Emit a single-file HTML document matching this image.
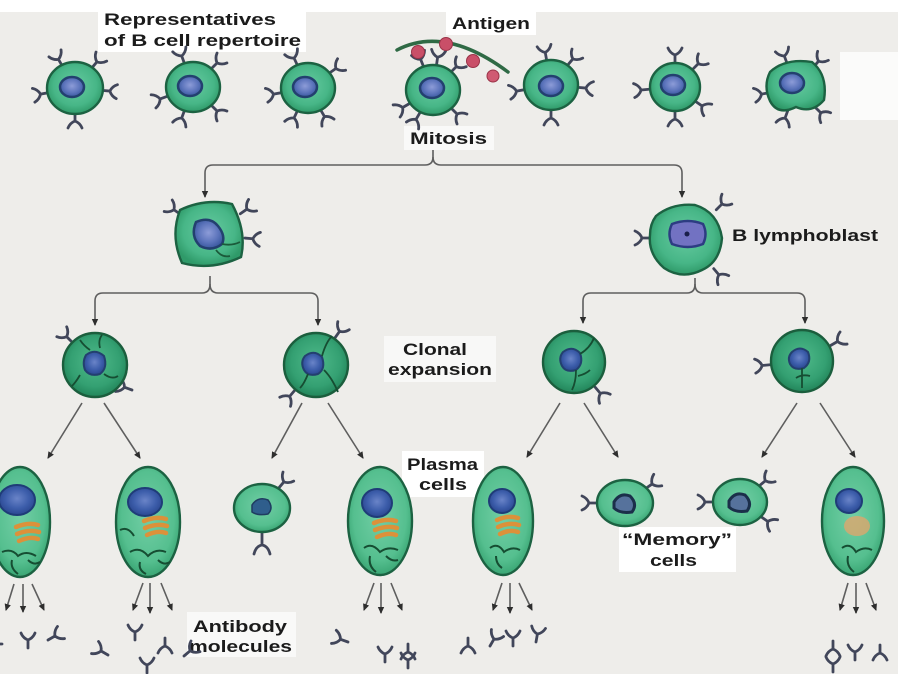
<!DOCTYPE html>
<html><head><meta charset="utf-8"><style>
html,body{margin:0;padding:0;background:#eeedea;}
svg{display:block;}
text{font-family:"Liberation Sans",sans-serif;font-weight:bold;fill:#1b1b1b;font-size:17px;}
</style></head><body>
<svg width="898" height="674" viewBox="0 0 898 674" xmlns="http://www.w3.org/2000/svg">
<defs>
<radialGradient id="g" cx="50%" cy="45%" r="55%"><stop offset="0" stop-color="#66caa0"/><stop offset="0.7" stop-color="#47b687"/><stop offset="1" stop-color="#2f9a69"/></radialGradient>
<radialGradient id="g2" cx="50%" cy="45%" r="55%"><stop offset="0" stop-color="#4fba8a"/><stop offset="0.7" stop-color="#34a072"/><stop offset="1" stop-color="#22855a"/></radialGradient>
<radialGradient id="gp" cx="50%" cy="45%" r="55%"><stop offset="0" stop-color="#72cea5"/><stop offset="0.75" stop-color="#55bf8f"/><stop offset="1" stop-color="#3aa674"/></radialGradient>
<radialGradient id="n" cx="50%" cy="45%" r="55%"><stop offset="0" stop-color="#8d9cd8"/><stop offset="0.6" stop-color="#5d75bc"/><stop offset="1" stop-color="#3a58a0"/></radialGradient>
<radialGradient id="np" cx="50%" cy="45%" r="55%"><stop offset="0" stop-color="#6a84c8"/><stop offset="0.6" stop-color="#3d5eab"/><stop offset="1" stop-color="#2a4790"/></radialGradient>
<marker id="a" markerWidth="8" markerHeight="8" refX="6" refY="4" orient="auto" markerUnits="userSpaceOnUse"><path d="M0,0.8 L7,4 L0,7.2 Z" fill="#2e2e2e"/></marker>
<g id="y"><path d="M0,0 V-8 M-7,-15 Q-5,-10 0,-8 Q5,-10 7,-15" fill="none" stroke="#41465a" stroke-width="2.8" stroke-linecap="round"/></g>
</defs>

<!-- white areas -->
<rect x="0" y="0" width="898" height="12" fill="#fff"/>
<rect x="840" y="52" width="58" height="68" fill="#fbfbfa"/>
<rect x="98" y="8" width="208" height="44" fill="#fff"/>
<rect x="446" y="9" width="90" height="26" fill="#fff"/>
<rect x="404" y="126" width="90" height="24" fill="#f9f9f8"/>
<rect x="384" y="336" width="112" height="46" fill="#f8f8f7"/>
<rect x="402" y="451" width="82" height="46" fill="#fff"/>
<rect x="619" y="527" width="117" height="45" fill="#fff"/>
<rect x="187" y="612" width="109" height="45" fill="#f9f9f8"/>

<!-- labels -->
<text x="104" y="25" textLength="172" lengthAdjust="spacingAndGlyphs">Representatives</text>
<text x="104" y="46" textLength="197" lengthAdjust="spacingAndGlyphs">of B cell repertoire</text>
<text x="452" y="29" textLength="78" lengthAdjust="spacingAndGlyphs">Antigen</text>
<text x="410" y="144" textLength="77" lengthAdjust="spacingAndGlyphs">Mitosis</text>
<text x="732" y="241" textLength="146" lengthAdjust="spacingAndGlyphs">B lymphoblast</text>
<text x="403" y="355" textLength="64" lengthAdjust="spacingAndGlyphs">Clonal</text>
<text x="388" y="375" textLength="104" lengthAdjust="spacingAndGlyphs">expansion</text>
<text x="407" y="470" textLength="71" lengthAdjust="spacingAndGlyphs">Plasma</text>
<text x="419" y="490" textLength="48" lengthAdjust="spacingAndGlyphs">cells</text>
<text x="622" y="545" textLength="110" lengthAdjust="spacingAndGlyphs">“Memory”</text>
<text x="650" y="566" textLength="47" lengthAdjust="spacingAndGlyphs">cells</text>
<text x="193" y="632" textLength="94" lengthAdjust="spacingAndGlyphs">Antibody</text>
<text x="189" y="652" textLength="103" lengthAdjust="spacingAndGlyphs">molecules</text>

<!-- connectors -->
<g fill="none" stroke="#5e5e5e" stroke-width="1.6">
<path d="M433,150 V157 Q433,165 425,165 H213 Q205,165 205,173 V197" marker-end="url(#a)"/>
<path d="M433,157 Q433,165 441,165 H674 Q682,165 682,173 V197" marker-end="url(#a)"/>
<path d="M210,276 V284 Q210,293 202,293 H103 Q95,293 95,301 V325" marker-end="url(#a)"/>
<path d="M210,284 Q210,293 218,293 H310 Q318,293 318,301 V325" marker-end="url(#a)"/>
<path d="M695,278 V284 Q695,293 687,293 H591 Q583,293 583,301 V323" marker-end="url(#a)"/>
<path d="M695,284 Q695,293 703,293 H797 Q805,293 805,301 V323" marker-end="url(#a)"/>
<path d="M82,403 L48,458" marker-end="url(#a)"/>
<path d="M104,403 L140,458" marker-end="url(#a)"/>
<path d="M302,403 L272,458" marker-end="url(#a)"/>
<path d="M328,403 L363,458" marker-end="url(#a)"/>
<path d="M560,403 L527,457" marker-end="url(#a)"/>
<path d="M584,403 L618,457" marker-end="url(#a)"/>
<path d="M797,403 L762,457" marker-end="url(#a)"/>
<path d="M820,403 L855,457" marker-end="url(#a)"/>
<path d="M14,584 L6,610" marker-end="url(#a)"/><path d="M23,584 L23,612" marker-end="url(#a)"/><path d="M32,584 L44,610" marker-end="url(#a)"/>
<path d="M143,583 L133,610" marker-end="url(#a)"/><path d="M150,583 L150,613" marker-end="url(#a)"/><path d="M161,583 L172,610" marker-end="url(#a)"/>
<path d="M374,583 L364,610" marker-end="url(#a)"/><path d="M381,583 L381,613" marker-end="url(#a)"/><path d="M391,583 L402,610" marker-end="url(#a)"/>
<path d="M502,583 L493,610" marker-end="url(#a)"/><path d="M510,583 L510,613" marker-end="url(#a)"/><path d="M519,583 L532,610" marker-end="url(#a)"/>
<path d="M848,583 L840,610" marker-end="url(#a)"/><path d="M856,583 L856,613" marker-end="url(#a)"/><path d="M866,583 L876,610" marker-end="url(#a)"/>
</g>

<!-- ===== top row ===== -->
<use href="#y" transform="translate(75,88) rotate(-30) translate(0,-25)"/>
<use href="#y" transform="translate(75,88) rotate(40) translate(0,-26)"/>
<use href="#y" transform="translate(75,88) rotate(-100) translate(0,-27)"/>
<use href="#y" transform="translate(75,88) rotate(95) translate(0,-27)"/>
<use href="#y" transform="translate(75,88) rotate(180) translate(0,-25)"/>
<ellipse cx="75" cy="88" rx="28" ry="26" fill="url(#g)" stroke="#1c6242" stroke-width="2.4"/>
<ellipse cx="72" cy="87" rx="12" ry="10" fill="url(#n)" stroke="#23406f" stroke-width="2.5"/>

<use href="#y" transform="translate(193,87) rotate(-20) translate(0,-25)"/>
<use href="#y" transform="translate(193,87) rotate(45) translate(0,-26)"/>
<use href="#y" transform="translate(193,87) rotate(-110) translate(0,-27)"/>
<use href="#y" transform="translate(193,87) rotate(135) translate(0,-26)"/>
<use href="#y" transform="translate(193,87) rotate(200) translate(0,-25)"/>
<ellipse cx="193" cy="87" rx="27" ry="25" fill="url(#g)" stroke="#1c6242" stroke-width="2.4"/>
<ellipse cx="190" cy="86" rx="12" ry="10" fill="url(#n)" stroke="#23406f" stroke-width="2.5"/>

<use href="#y" transform="translate(308,88) rotate(-25) translate(0,-25)"/>
<use href="#y" transform="translate(308,88) rotate(55) translate(0,-26)"/>
<use href="#y" transform="translate(308,88) rotate(-100) translate(0,-27)"/>
<use href="#y" transform="translate(308,88) rotate(150) translate(0,-25)"/>
<use href="#y" transform="translate(308,88) rotate(205) translate(0,-25)"/>
<ellipse cx="308" cy="88" rx="27" ry="25" fill="url(#g)" stroke="#1c6242" stroke-width="2.4"/>
<ellipse cx="305" cy="87" rx="12" ry="10" fill="url(#n)" stroke="#23406f" stroke-width="2.5"/>

<path d="M397,50 Q445,25 508,72" fill="none" stroke="#2f6a45" stroke-width="3.5" stroke-linecap="round"/>
<use href="#y" transform="translate(433,90) rotate(-22) translate(0,-25)"/>
<use href="#y" transform="translate(433,90) rotate(8) translate(0,-25)"/>
<use href="#y" transform="translate(433,90) rotate(45) translate(0,-25)"/>
<use href="#y" transform="translate(433,90) rotate(-120) translate(0,-27)"/>
<use href="#y" transform="translate(433,90) rotate(-150) translate(0,-26)"/>
<use href="#y" transform="translate(433,90) rotate(135) translate(0,-26)"/>
<circle cx="418" cy="52" r="6.5" fill="#c94f68" stroke="#9a3348" stroke-width="1"/>
<circle cx="446" cy="44" r="6.5" fill="#c94f68" stroke="#9a3348" stroke-width="1"/>
<circle cx="473" cy="61" r="6.5" fill="#c94f68" stroke="#9a3348" stroke-width="1"/>
<circle cx="493" cy="76" r="6" fill="#d05a72" stroke="#9a3348" stroke-width="1"/>
<ellipse cx="433" cy="90" rx="27" ry="25" fill="url(#g)" stroke="#1c6242" stroke-width="2.4"/>
<ellipse cx="432" cy="88" rx="12" ry="10" fill="url(#n)" stroke="#23406f" stroke-width="2.5"/>

<use href="#y" transform="translate(551,85) rotate(-10) translate(0,-25)"/>
<use href="#y" transform="translate(551,85) rotate(40) translate(0,-26)"/>
<use href="#y" transform="translate(551,85) rotate(-100) translate(0,-27)"/>
<use href="#y" transform="translate(551,85) rotate(95) translate(0,-27)"/>
<use href="#y" transform="translate(551,85) rotate(180) translate(0,-25)"/>
<ellipse cx="551" cy="85" rx="27" ry="25" fill="url(#g)" stroke="#1c6242" stroke-width="2.4"/>
<ellipse cx="551" cy="86" rx="12" ry="10" fill="url(#n)" stroke="#23406f" stroke-width="2.5"/>

<use href="#y" transform="translate(675,87) rotate(0) translate(0,-24)"/>
<use href="#y" transform="translate(675,87) rotate(45) translate(0,-25)"/>
<use href="#y" transform="translate(675,87) rotate(-95) translate(0,-26)"/>
<use href="#y" transform="translate(675,87) rotate(125) translate(0,-25)"/>
<use href="#y" transform="translate(675,87) rotate(180) translate(0,-24)"/>
<ellipse cx="675" cy="87" rx="25" ry="24" fill="url(#g)" stroke="#1c6242" stroke-width="2.4"/>
<ellipse cx="673" cy="85" rx="12" ry="10" fill="url(#n)" stroke="#23406f" stroke-width="2.5"/>

<use href="#y" transform="translate(796,88) rotate(-20) translate(0,-26)"/>
<use href="#y" transform="translate(796,88) rotate(40) translate(0,-27)"/>
<use href="#y" transform="translate(796,88) rotate(-100) translate(0,-27)"/>
<use href="#y" transform="translate(796,88) rotate(135) translate(0,-27)"/>
<use href="#y" transform="translate(796,88) rotate(200) translate(0,-24)"/>
<path d="M770,72 Q785,58 812,62 Q828,75 824,100 Q812,114 796,107 Q778,116 770,101 Q763,86 770,72Z" fill="url(#g)" stroke="#1c6242" stroke-width="2.4"/>
<ellipse cx="792" cy="83" rx="12" ry="10" fill="url(#n)" stroke="#23406f" stroke-width="2.5"/>

<!-- ===== row 2 ===== -->
<use href="#y" transform="translate(210,235) rotate(-55) translate(0,-36)"/>
<use href="#y" transform="translate(210,235) rotate(55) translate(0,-37)"/>
<use href="#y" transform="translate(210,235) rotate(95) translate(0,-35)"/>
<path d="M180,210 Q205,198 232,204 Q247,232 241,257 Q212,271 182,263 Q170,236 180,210Z" fill="url(#g)" stroke="#1c6242" stroke-width="2.4"/>
<path d="M196,222 Q210,216 218,226 Q226,236 222,244 Q212,252 200,246 Q190,236 196,222Z" fill="url(#n)" stroke="#23406f" stroke-width="2.5"/>
<path d="M222,244 Q232,246 240,242 M216,250 Q222,258 230,256" fill="none" stroke="#1b5a3a" stroke-width="1.8"/>

<use href="#y" transform="translate(688,238) rotate(-90) translate(0,-38)"/>
<use href="#y" transform="translate(688,238) rotate(45) translate(0,-40)"/>
<use href="#y" transform="translate(688,238) rotate(140) translate(0,-40)"/>
<path d="M656,216 Q672,203 695,205 Q718,212 722,238 Q720,262 702,270 Q682,280 664,268 Q648,254 650,235 Q650,224 656,216Z" fill="url(#g)" stroke="#1c6242" stroke-width="2.4"/>
<path d="M672,224 Q688,218 703,224 Q708,234 703,244 Q688,250 672,244 Q667,234 672,224Z" fill="#7272c2" stroke="#2d3c82" stroke-width="2.5"/>
<circle cx="687" cy="234" r="2.5" fill="#1a1f4a"/>

<!-- ===== row 3 ===== -->
<use href="#y" transform="translate(95,365) rotate(-45) translate(0,-32)"/>
<use href="#y" transform="translate(132,390) rotate(-70)"/>
<circle cx="95" cy="365" r="32" fill="url(#g2)" stroke="#1b5e3d" stroke-width="2.4"/>
<path d="M86,355 Q95,348 104,356 Q108,368 100,374 Q90,377 85,370 Q82,362 86,355Z" fill="url(#np)" stroke="#23406f" stroke-width="2"/>
<path d="M100,348 Q98,340 102,335 M80,375 Q76,382 72,386 M104,374 Q112,380 118,376 M90,350 Q84,346 80,340" fill="none" stroke="#164d32" stroke-width="1.8"/>

<use href="#y" transform="translate(316,365) rotate(35) translate(0,-33)"/>
<use href="#y" transform="translate(316,365) rotate(-140) translate(0,-33)"/>
<circle cx="316" cy="365" r="32" fill="url(#g2)" stroke="#1b5e3d" stroke-width="2.4"/>
<path d="M305,356 Q314,349 322,357 Q326,369 318,374 Q308,377 304,370 Q300,362 305,356Z" fill="url(#np)" stroke="#23406f" stroke-width="2"/>
<path d="M322,356 Q326,342 332,336 M324,370 Q332,378 338,392 M308,374 Q304,384 300,388" fill="none" stroke="#164d32" stroke-width="1.8"/>

<use href="#y" transform="translate(574,362) rotate(140) translate(0,-33)"/>
<circle cx="574" cy="362" r="31" fill="url(#g2)" stroke="#1b5e3d" stroke-width="2.4"/>
<path d="M563,352 Q572,345 580,353 Q584,364 576,370 Q566,373 562,366 Q558,358 563,352Z" fill="url(#np)" stroke="#23406f" stroke-width="2"/>
<path d="M580,354 Q590,348 594,338 M576,370 Q576,382 572,390 M578,376 Q586,374 590,370" fill="none" stroke="#164d32" stroke-width="1.8"/>

<use href="#y" transform="translate(802,362) rotate(-95) translate(0,-32)"/>
<use href="#y" transform="translate(802,362) rotate(60) translate(0,-33)"/>
<circle cx="802" cy="361" r="31" fill="url(#g2)" stroke="#1b5e3d" stroke-width="2.4"/>
<path d="M792,352 Q800,345 808,352 Q812,362 804,368 Q794,371 790,364 Q787,357 792,352Z" fill="url(#np)" stroke="#23406f" stroke-width="2"/>
<path d="M802,368 V388 M796,378 Q802,374 810,376" fill="none" stroke="#164d32" stroke-width="1.8"/>

<!-- ===== row 4 ===== -->
<g>
<ellipse cx="20" cy="522" rx="30" ry="55" fill="url(#gp)" stroke="#1c6242" stroke-width="2.4"/>
<ellipse cx="17" cy="500" rx="18" ry="15" fill="url(#np)" stroke="#1f3c78" stroke-width="2"/>
<path d="M16,527 Q28,522 38,525 M17,534 Q29,529 39,532 M19,541 Q30,536 38,539" fill="none" stroke="#dc913a" stroke-width="4.5" stroke-linecap="round"/>
<path d="M2,552 Q12,548 18,556 Q26,550 36,556 M12,560 Q10,568 18,574 M28,560 Q34,566 40,562" fill="none" stroke="#164d32" stroke-width="2"/>
</g>
<g>
<ellipse cx="148" cy="522" rx="32" ry="55" fill="url(#gp)" stroke="#1c6242" stroke-width="2.4"/>
<ellipse cx="145" cy="502" rx="17" ry="14" fill="url(#np)" stroke="#1f3c78" stroke-width="2"/>
<path d="M144,521 Q156,516 166,519 M145,528 Q157,523 167,526 M147,535 Q158,530 166,533" fill="none" stroke="#dc913a" stroke-width="4.5" stroke-linecap="round"/>
<path d="M120,530 Q128,526 134,536 M130,552 Q140,546 148,556 Q156,548 166,552 M140,562 Q138,570 146,574 M158,560 Q164,566 170,562" fill="none" stroke="#164d32" stroke-width="2"/>
</g>
<g>
<ellipse cx="380" cy="521" rx="32" ry="54" fill="url(#gp)" stroke="#1c6242" stroke-width="2.4"/>
<ellipse cx="377" cy="503" rx="15" ry="14" fill="url(#np)" stroke="#1f3c78" stroke-width="2"/>
<path d="M374,523 Q386,518 396,521 M375,530 Q387,525 397,528 M377,537 Q388,532 396,535" fill="none" stroke="#dc913a" stroke-width="4.5" stroke-linecap="round"/>
<path d="M364,548 Q372,542 380,552 Q388,546 398,550 M370,556 Q368,566 376,572 M386,556 Q392,562 398,560" fill="none" stroke="#164d32" stroke-width="2"/>
</g>
<g>
<ellipse cx="503" cy="521" rx="30" ry="54" fill="url(#gp)" stroke="#1c6242" stroke-width="2.4"/>
<ellipse cx="502" cy="501" rx="13" ry="12" fill="url(#np)" stroke="#1f3c78" stroke-width="2"/>
<path d="M497,520 Q508,515 518,518 M498,527 Q509,522 519,525 M500,534 Q510,529 518,532" fill="none" stroke="#dc913a" stroke-width="4.5" stroke-linecap="round"/>
<path d="M490,548 Q498,542 504,552 Q512,546 520,550 M496,556 Q496,564 502,568" fill="none" stroke="#164d32" stroke-width="2"/>
</g>
<g>
<ellipse cx="853" cy="521" rx="31" ry="54" fill="url(#gp)" stroke="#1c6242" stroke-width="2.4"/>
<ellipse cx="849" cy="501" rx="13" ry="12" fill="url(#np)" stroke="#1f3c78" stroke-width="2"/>
<ellipse cx="857" cy="526" rx="13" ry="10" fill="#e6a46a" opacity="0.75"/>
<path d="M842,548 Q850,542 856,552 Q864,546 872,550 M848,556 Q846,566 854,572" fill="none" stroke="#164d32" stroke-width="2"/>
</g>

<use href="#y" transform="translate(262,508) rotate(40) translate(0,-26)"/>
<path d="M262,532 V545 M254,554 Q256,546 262,545 Q268,546 270,554" fill="none" stroke="#41465a" stroke-width="2.8" stroke-linecap="round"/>
<ellipse cx="262" cy="508" rx="28" ry="24" fill="url(#gp)" stroke="#1c6242" stroke-width="2.4"/>
<path d="M252,505 Q258,496 268,500 Q274,508 268,514 Q258,516 252,512Z" fill="#2f5e8c" stroke="#1f3c60" stroke-width="1.5"/>

<use href="#y" transform="translate(625,503) rotate(-90) translate(0,-28)"/>
<use href="#y" transform="translate(625,503) rotate(55) translate(0,-25)"/>
<ellipse cx="625" cy="503" rx="28" ry="23" fill="url(#gp)" stroke="#1c6242" stroke-width="2.4"/>
<path d="M614,502 Q620,492 630,496 Q638,504 632,512 Q620,514 614,508Z" fill="#56729c" stroke="#1b2f4a" stroke-width="3"/>

<use href="#y" transform="translate(740,502) rotate(-90) translate(0,-27)"/>
<use href="#y" transform="translate(740,502) rotate(50) translate(0,-25)"/>
<use href="#y" transform="translate(740,502) rotate(125) translate(0,-26)"/>
<ellipse cx="740" cy="502" rx="27" ry="23" fill="url(#gp)" stroke="#1c6242" stroke-width="2.4"/>
<path d="M729,501 Q735,491 745,495 Q753,503 747,511 Q735,513 729,507Z" fill="#56729c" stroke="#1b2f4a" stroke-width="3"/>

<!-- free antibodies -->
<use href="#y" transform="translate(2,644) rotate(-90)"/>
<use href="#y" transform="translate(28,648)"/>
<use href="#y" transform="translate(48,640) rotate(60)"/>

<use href="#y" transform="translate(135,640)"/>
<use href="#y" transform="translate(165,638) rotate(180)"/>
<use href="#y" transform="translate(108,655) rotate(-60)"/>
<use href="#y" transform="translate(147,673)"/>
<use href="#y" transform="translate(184,656) rotate(50)"/>

<use href="#y" transform="translate(348,642) rotate(-70)"/>
<use href="#y" transform="translate(385,662)"/>
<use href="#y" transform="translate(408,644) rotate(180)"/>
<use href="#y" transform="translate(408,668)"/>

<use href="#y" transform="translate(468,638) rotate(180)"/>
<use href="#y" transform="translate(490,646) rotate(30)"/>
<use href="#y" transform="translate(513,646)"/>
<use href="#y" transform="translate(536,642) rotate(10)"/>

<use href="#y" transform="translate(833,641) rotate(180)"/>
<use href="#y" transform="translate(833,672)"/>
<use href="#y" transform="translate(855,660)"/>
<use href="#y" transform="translate(880,645) rotate(180)"/>
</svg>
</body></html>
